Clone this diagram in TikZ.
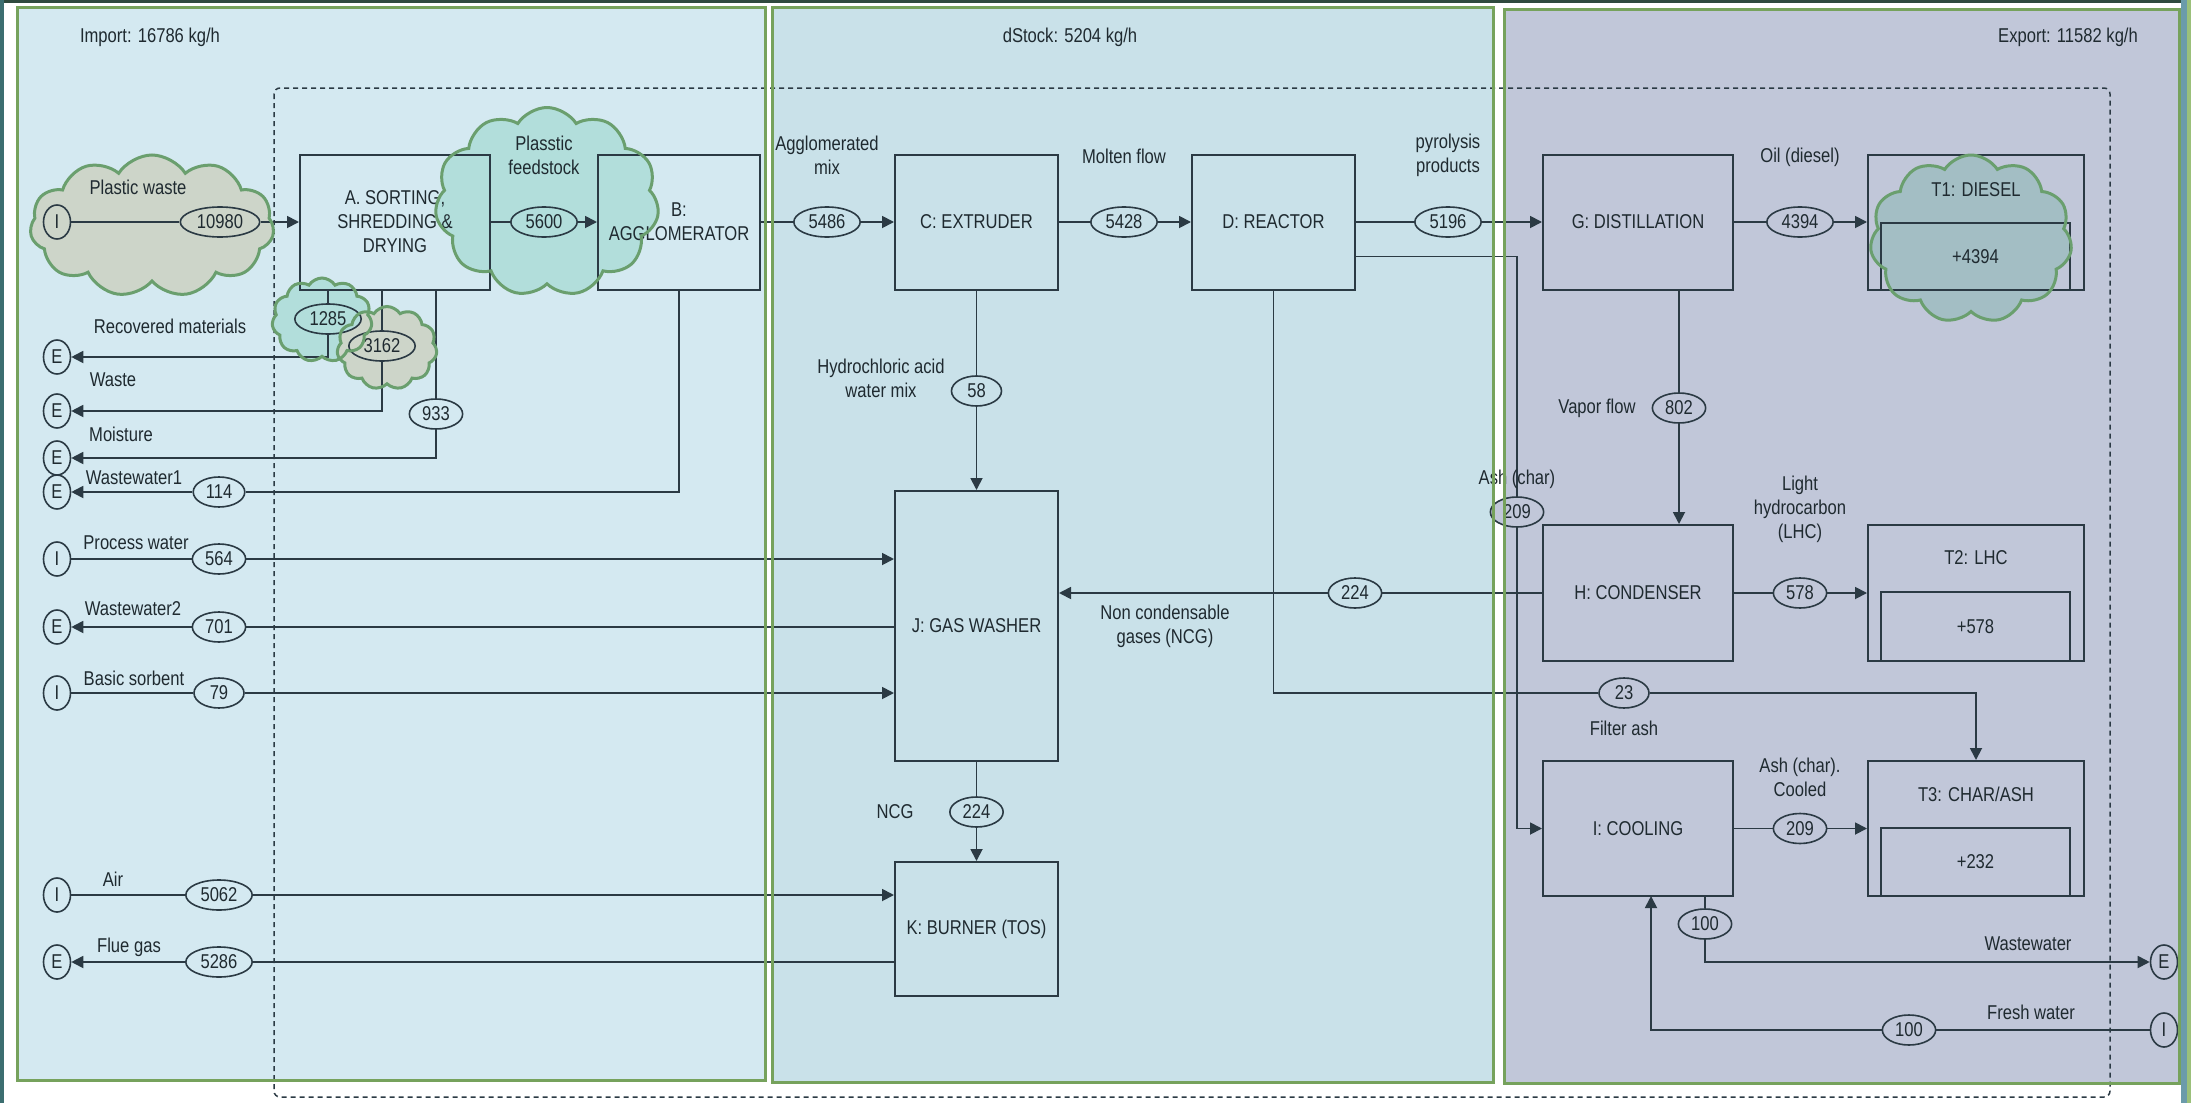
\documentclass[tikz,border=0pt]{standalone}
\usepackage{fontspec}
\setmainfont{Liberation Sans}[FakeStretch=0.83]
\usetikzlibrary{shapes.geometric,shapes.symbols,arrows.meta,calc}
\definecolor{pA}{HTML}{D4E9F1}
\definecolor{pB}{HTML}{C9E1E9}
\definecolor{pC}{HTML}{C1C7D9}
\definecolor{grn}{HTML}{76A25C}
\definecolor{lgrn}{HTML}{9BC07A}
\definecolor{framec}{HTML}{2F4A3E}
\definecolor{framet}{HTML}{3C6E70}
\definecolor{tstrip}{HTML}{6B9BAA}
\definecolor{linec}{HTML}{2B3A44}
\definecolor{txtc}{HTML}{1F2A30}
\definecolor{cloudG}{HTML}{6A9F6E}
\definecolor{beigec}{HTML}{CDD5C9}
\definecolor{tealc}{HTML}{B2DEDB}
\definecolor{tealg}{HTML}{A3BEC4}
\begin{document}
\begin{tikzpicture}[x=0.5pt,y=-0.5pt,
 font=\fontsize{10}{12}\selectfont,
 every node/.style={text=txtc},
 proc/.style={draw=linec,line width=1pt,rectangle,inner sep=0pt,align=center},
 fv/.style={ellipse,draw=linec,line width=0.8pt,inner xsep=2.5pt,inner ysep=1pt,minimum height=15pt,minimum width=25pt},
 fvA/.style={fv,fill=pA},
 fvB/.style={fv,fill=pB},
 fvC/.style={fv,fill=pC},
 term/.style={ellipse,draw=linec,line width=0.8pt,inner sep=0pt,minimum width=13.5pt,minimum height=17pt},
 lab/.style={align=center,inner sep=0pt},
 conn/.style={draw=linec,line width=0.9pt},
 arr/.style={conn,-{Triangle[length=6pt,width=6pt]}},
 puff/.style={cloud,cloud puffs=11,cloud puff arc=115,cloud ignores aspect,inner sep=0pt},
 puffline/.style={puff,draw=cloudG,line width=1.5pt},
 pborder/.style={draw=grn,line width=1.5pt}
]
% background and panels
\fill[white] (0,0) rectangle (2191,1103);
\useasboundingbox (0,0) rectangle (2191,1103);
\fill[pA] (17,7) rectangle (765,1080);
\fill[pB] (772,7) rectangle (1493,1082);
\fill[pC] (1504,9) rectangle (2179,1083);
\fill[framec] (0,0) rectangle (2191,3);
\fill[framet] (0,0) rectangle (4,1103);
\fill[tstrip] (2181,0) rectangle (2187,1103);
\fill[lgrn] (2187,0) rectangle (2191,1103);
% system boundary
\draw[linec,line width=0.75pt,dash pattern=on 2.5pt off 2pt,rounded corners=3pt] (274,88) rectangle (2110,1097);

% cloud fills (under the diagram)
\node[puff,fill=beigec,minimum width=122pt,minimum height=71pt] (cPWf) at (152,226) {};
\node[puff,fill=tealc,minimum width=112pt,minimum height=94.5pt] (cPFf) at (547,202) {};
\node[puff,fill=tealc,minimum width=50pt,minimum height=42pt] (c1285f) at (322,320) {};
\node[puff,fill=beigec,minimum width=50pt,minimum height=41.5pt] (c3162f) at (387,348) {};
\node[puff,fill=tealg,minimum width=101pt,minimum height=84pt] (cT1f) at (1971,239) {};

% panel titles
\node[lab] (impL) at (150,37) {Import: 16786 kg/h};
\node[lab] (stkL) at (1070,37) {dStock: 5204 kg/h};
\node[lab] (expL) at (2068,37) {Export: 11582 kg/h};

% process boxes
\node[proc,minimum width=95pt,minimum height=67.5pt] (A) at (395,222) {A. SORTING,\\SHREDDING \&\\DRYING};
\node[proc,minimum width=81pt,minimum height=67.5pt] (B) at (679,222) {B:\\AGGLOMERATOR};
\node[proc,minimum width=81.5pt,minimum height=67.5pt] (C) at (976.5,222) {C: EXTRUDER};
\node[proc,minimum width=81.5pt,minimum height=67.5pt] (D) at (1273.5,222) {D: REACTOR};
\node[proc,minimum width=95pt,minimum height=67.5pt] (G) at (1638,222) {G: DISTILLATION};
\node[proc,minimum width=95pt,minimum height=68pt] (H) at (1638,593) {H: CONDENSER};
\node[proc,minimum width=95pt,minimum height=67.5pt] (I) at (1638,828.5) {I: COOLING};
\node[proc,minimum width=81.5pt,minimum height=135pt] (J) at (976.5,626) {J: GAS WASHER};
\node[proc,minimum width=81.5pt,minimum height=67pt] (K) at (976.5,929) {K: BURNER (TOS)};
% tanks
\node[proc,minimum width=108pt,minimum height=67.5pt] (T1) at (1976,222) {};
\node[proc,minimum width=94.5pt,minimum height=33.5pt] (T1in) at (1975.5,256.5) {+4394};
\node[lab] (T1lab) at (1976,190) {T1: DIESEL};
\node[proc,minimum width=108pt,minimum height=68pt] (T2) at (1976,593) {};
\node[proc,minimum width=94.5pt,minimum height=34.5pt] (T2in) at (1975.5,626.5) {+578};
\node[lab] (T2lab) at (1976,558) {T2: LHC};
\node[proc,minimum width=108pt,minimum height=67.5pt] (T3) at (1976,828.5) {};
\node[proc,minimum width=94.5pt,minimum height=34pt] (T3in) at (1975.5,862) {+232};
\node[lab] (T3lab) at (1976,794) {T3: CHAR/ASH};

% terminals
\node[term,fill=beigec] (tPW) at (57,222) {I};
\node[term,fill=pA] (tErec) at (57,357) {E};
\node[term,fill=pA] (tEwas) at (57,411) {E};
\node[term,fill=pA] (tEmoi) at (57,458) {E};
\node[term,fill=pA] (tEww1) at (57,492) {E};
\node[term,fill=pA] (tIpw) at (57,559) {I};
\node[term,fill=pA] (tEww2) at (57,627) {E};
\node[term,fill=pA] (tIbs) at (57,693) {I};
\node[term,fill=pA] (tIair) at (57,895) {I};
\node[term,fill=pA] (tEflue) at (57,962) {E};
\node[term,fill=pC] (tEww) at (2164,962) {E};
\node[term,fill=pC] (tIfw) at (2164,1030) {I};

% flow values
\node[fv,fill=beigec] (e10980) at (220,222) {10980};
\node[fv,fill=tealc] (e5600) at (544,222) {5600};
\node[fvB] (e5486) at (827,222) {5486};
\node[fvB] (e5428) at (1124,222) {5428};
\node[fvB] (e5196) at (1448,222) {5196};
\node[fvC] (e4394) at (1800,222) {4394};
\node[fv,fill=tealc] (e1285) at (328,319) {1285};
\node[fv,fill=beigec] (e3162) at (382,346) {3162};
\node[fvA] (e933) at (436,414) {933};
\node[fvA] (e114) at (219,492) {114};
\node[fvA] (e564) at (219,559) {564};
\node[fvA] (e701) at (219,627) {701};
\node[fvA] (e79) at (219,693) {79};
\node[fvA] (e5062) at (219,895) {5062};
\node[fvA] (e5286) at (219,962) {5286};
\node[fvB] (e58) at (976.5,391) {58};
\node[fvB] (e224b) at (976.5,812) {224};
\node[fvB] (e224a) at (1355,593) {224};
\node[fvC] (e802) at (1679,408) {802};
\node[fvC] (e578) at (1800,593) {578};
\node[fvC] (e209a) at (1517,512) {209};
\node[fvC] (e23) at (1624,693) {23};
\node[fvC] (e209b) at (1800,828.5) {209};
\node[fvC] (e100a) at (1705,924) {100};
\node[fvC] (e100b) at (1909,1030) {100};
\coordinate (fwup) at (1651,896);

% connectors
\draw[arr] (tPW) -- (e10980) -- (A);
\draw[arr] (A) -- (e5600) -- (B);
\draw[arr] (B) -- (e5486) -- (C);
\draw[arr] (C) -- (e5428) -- (D);
\draw[arr] (D) -- (e5196) -- (G);
\draw[arr] (G) -- (e4394) -- (T1);
\draw[arr] (e1285 |- A.south) -- (e1285) |- (tErec);
\draw[arr] (e3162 |- A.south) -- (e3162) |- (tEwas);
\draw[arr] (e933 |- A.south) -- (e933) |- (tEmoi);
\draw[conn] (B.south) |- (e114);
\draw[arr] (e114) -- (tEww1);
\draw[arr] (tIpw) -- (e564) -- (J.west |- e564);
\draw[arr] (J.west |- e701) -- (e701) -- (tEww2);
\draw[arr] (tIbs) -- (e79) -- (J.west |- e79);
\draw[arr] (C) -- (e58) -- (J);
\draw[arr] (J) -- (e224b) -- (K);
\draw[arr] (tIair) -- (e5062) -- (K.west |- e5062);
\draw[arr] (K.west |- e5286) -- (e5286) -- (tEflue);
\draw[arr] (H.west |- e224a) -- (e224a) -- (J.east |- e224a);
\draw[arr] (G.south -| e802) -- (e802) -- (H.north -| e802);
\draw[arr] (H) -- (e578) -- (T2);
\draw[conn] ([yshift=-17.25pt]D.east) -| (e209a);
\draw[arr] (e209a) |- (I.west);
\draw[conn] (D.south) |- (e23);
\draw[arr] (e23) -| (T3);
\draw[arr] (I) -- (e209b) -- (T3);
\draw[arr] (I.south -| e100a) -- (e100a) |- (tEww);
\draw[arr] (tIfw) -- (e100b) -| (fwup);

% flow labels
\node[lab] (lPW) at (138,187) {Plastic waste};
\node[lab] (lRec) at (170,326) {Recovered materials};
\node[lab] (lWas) at (113,380) {Waste};
\node[lab] (lMoi) at (121,434) {Moisture};
\node[lab] (lWw1) at (134,478) {Wastewater1};
\node[lab] (lPw) at (136,543) {Process water};
\node[lab] (lWw2) at (133,609) {Wastewater2};
\node[lab] (lBs) at (134,678) {Basic sorbent};
\node[lab] (lAir) at (113,879) {Air};
\node[lab] (lFlue) at (129,947) {Flue gas};
\node[lab] (lPF) at (544,155) {Plasstic\\feedstock};
\node[lab] (lAgg) at (827,155.5) {Agglomerated\\mix};
\node[lab] (lMol) at (1124,156) {Molten flow};
\node[lab] (lPyr) at (1448,155.5) {pyrolysis\\products};
\node[lab] (lOil) at (1800,157) {Oil (diesel)};
\node[lab] (lHcl) at (881,378) {Hydrochloric acid\\water mix};
\node[lab] (lNcg1) at (1165,626) {Non condensable\\gases (NCG)};
\node[lab] (lNcg2) at (895,812) {NCG};
\node[lab] (lVap) at (1597,408) {Vapor flow};
\node[lab] (lAsh) at (1517,479) {Ash (char)};
\node[lab] (lLhc) at (1800,509) {Light\\hydrocarbon\\(LHC)};
\node[lab] (lFa) at (1624,728) {Filter ash};
\node[lab] (lAshc) at (1800,777.5) {Ash (char).\\Cooled};
\node[lab] (lWw) at (2028,944) {Wastewater};
\node[lab] (lFw) at (2031,1012) {Fresh water};

% cloud outlines (over the diagram)
\node[puffline,minimum width=122pt,minimum height=71pt] (cPW) at (152,226) {};
\node[puffline,minimum width=112pt,minimum height=94.5pt] (cPF) at (547,202) {};
\node[puffline,minimum width=50pt,minimum height=42pt] (c1285) at (322,320) {};
\node[puffline,minimum width=50pt,minimum height=41.5pt] (c3162) at (387,348) {};
\node[puffline,minimum width=101pt,minimum height=84pt] (cT1) at (1971,239) {};

% panel borders
\draw[pborder] (17,7) rectangle (765,1080);
\draw[pborder] (772,7) rectangle (1493,1082);
\draw[pborder] (1504,9) rectangle (2179,1083);
\end{tikzpicture}
\end{document}
